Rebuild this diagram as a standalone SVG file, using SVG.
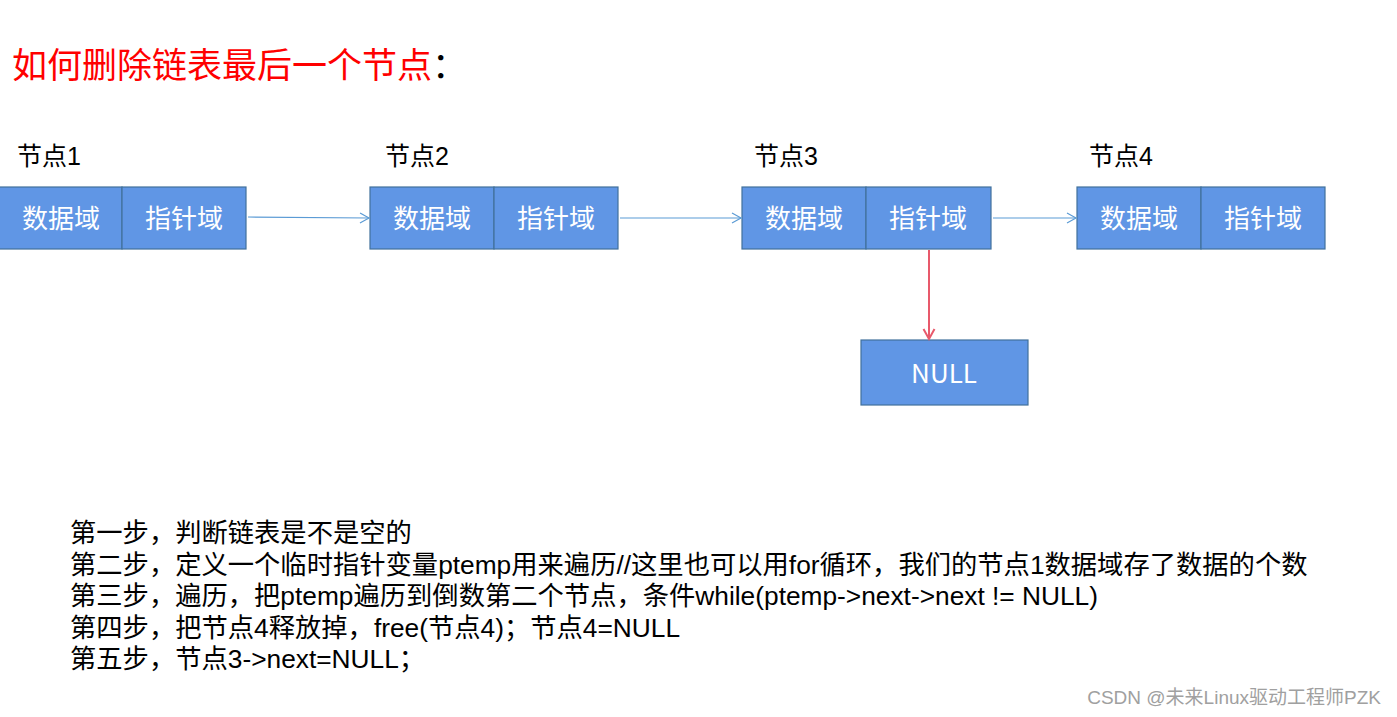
<svg xmlns="http://www.w3.org/2000/svg" width="1397" height="717" viewBox="0 0 1397 717">
<style>
.box{fill:#6096E5;stroke:#41719C;stroke-width:1.2}
.bt{font-family:"Noto Sans CJK SC","Liberation Sans",sans-serif;font-size:26px;fill:#fff;text-anchor:middle}
.lbl{font-family:"Liberation Sans","Noto Sans CJK SC",sans-serif;font-size:25px;fill:#000}
.step{font-family:"Liberation Sans","Noto Sans CJK SC",sans-serif;font-size:26.3px;fill:#000}
.conn{stroke:#5B9BD5;stroke-width:1.2;fill:none}
.red{stroke:#E8596B;stroke-width:2;fill:none}
</style>
<defs>
<marker id="ab" markerWidth="12" markerHeight="12" refX="10" refY="6" orient="auto" markerUnits="userSpaceOnUse">
<path d="M1,1 L10,6 L1,11" fill="none" stroke="#5B9BD5" stroke-width="1.2"/>
</marker>
<marker id="ar" markerWidth="14" markerHeight="14" refX="11" refY="7" orient="auto" markerUnits="userSpaceOnUse">
<path d="M1,1.5 L11,7 L1,12.5" fill="none" stroke="#E8596B" stroke-width="2"/>
</marker>
</defs>
<rect width="1397" height="717" fill="#fff"/>
<text x="12" y="78" font-family="Noto Sans CJK SC,sans-serif" font-size="35" fill="#FF0000">如何删除链表最后一个节点<tspan fill="#000">：</tspan></text>

<g id="node1">
<text class="lbl" x="17" y="165">节点1</text>
<rect class="box" x="-2" y="187" width="124" height="62"/>
<rect class="box" x="122" y="187" width="124" height="62"/>
<text class="bt" x="61" y="228">数据域</text>
<text class="bt" x="184" y="228">指针域</text>
</g>
<g id="node2">
<text class="lbl" x="385" y="165">节点2</text>
<rect class="box" x="370" y="187" width="124" height="62"/>
<rect class="box" x="494" y="187" width="124" height="62"/>
<text class="bt" x="432" y="228">数据域</text>
<text class="bt" x="556" y="228">指针域</text>
</g>
<g id="node3">
<text class="lbl" x="754" y="165">节点3</text>
<rect class="box" x="742" y="187" width="124" height="62"/>
<rect class="box" x="866" y="187" width="125" height="62"/>
<text class="bt" x="804" y="228">数据域</text>
<text class="bt" x="928" y="228">指针域</text>
</g>
<g id="node4">
<text class="lbl" x="1089" y="165">节点4</text>
<rect class="box" x="1077" y="187" width="124" height="62"/>
<rect class="box" x="1201" y="187" width="124" height="62"/>
<text class="bt" x="1139" y="228">数据域</text>
<text class="bt" x="1263" y="228">指针域</text>
</g>
<g id="null">
<rect class="box" x="861" y="340" width="167" height="65"/>
<text class="bt" x="944" y="383" font-family="Liberation Sans,sans-serif">NULL</text>
</g>

<g id="connectors">
<path class="conn" d="M248,217 L369,218" marker-end="url(#ab)"/>
<path class="conn" d="M620,218 L741,218" marker-end="url(#ab)"/>
<path class="conn" d="M993,218 L1076,218" marker-end="url(#ab)"/>
<path class="red" d="M929,250 L929,339" marker-end="url(#ar)"/>
</g>

<g id="steps">
<text class="step" x="70" y="542">第一步，判断链表是不是空的</text>
<text class="step" x="70" y="574">第二步，定义一个临时指针变量ptemp用来遍历//这里也可以用for循环，我们的节点1数据域存了数据的个数</text>
<text class="step" x="70" y="605">第三步，遍历，把ptemp遍历到倒数第二个节点，条件while(ptemp-&gt;next-&gt;next != NULL)</text>
<text class="step" x="70" y="637">第四步，把节点4释放掉，free(节点4)；节点4=NULL</text>
<text class="step" x="70" y="668">第五步，节点3-&gt;next=NULL；</text>
</g>
<text x="1381" y="704" text-anchor="end" font-family="Liberation Sans,Noto Sans CJK SC,sans-serif" font-size="19" fill="#A0A0A0">CSDN @未来Linux驱动工程师PZK</text>
</svg>
